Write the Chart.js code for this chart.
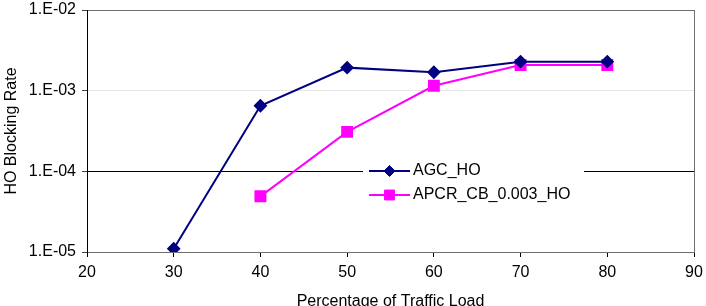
<!DOCTYPE html>
<html>
<head>
<meta charset="utf-8">
<script src="https://cdn.jsdelivr.net/npm/chart.js@4/dist/chart.umd.min.js"></script>
<style>
  html, body { margin: 0; padding: 0; overflow: hidden; background: #fff; }
  #wrap { width: 706px; height: 316px; position: relative; }
</style>
</head>
<body>
<div id="wrap"><canvas id="c"></canvas></div>
<script>
// ---- data ----
const trafficLoad = [30, 40, 50, 60, 70, 80];
const agcHO = [1.1e-5, 6.5e-4, 1.93e-3, 1.69e-3, 2.29e-3, 2.29e-3];
const apcrLoad = [40, 50, 60, 70, 80];
const apcrHO = [4.9e-5, 3.08e-4, 1.15e-3, 2.08e-3, 2.08e-3];
const yTickValues = [1e-5, 1e-4, 1e-3, 1e-2];
const yTickLabels = ['1.E-05', '1.E-04', '1.E-03', '1.E-02'];
const seriesNames = ['AGC_HO', 'APCR_CB_0.003_HO'];

const FONT = "'Liberation Sans', Arial, sans-serif";
Chart.defaults.font.family = FONT;
Chart.defaults.font.size = 16;
Chart.defaults.color = '#000';

const yGridColor = v => {
  if (Math.abs(v - 1e-2) < 1e-9) return '#6e6e6e';
  if (Math.abs(v - 1e-3) < 1e-9) return '#e6e6e6';
  if (Math.abs(v - 1e-4) < 1e-9) return '#000000';
  return '#6e6e6e';
};

const zeroPad = s => { s.paddingTop = 0; s.paddingBottom = 0; s.paddingLeft = 0; s.paddingRight = 0; };

const insideLegend = {
  id: 'insideLegend',
  afterDatasetsDraw(chart, args, opts) {
    const ctx = chart.ctx;
    const ds = chart.data.datasets;
    ctx.save();
    ctx.fillStyle = '#fff';
    ctx.fillRect(opts.boxLeft, opts.boxTop, opts.boxWidth, opts.boxHeight);
    ds.forEach((d, i) => {
      const y = opts.rowTop + i * opts.rowGap;
      ctx.strokeStyle = d.borderColor;
      ctx.lineWidth = d.borderWidth;
      ctx.beginPath();
      ctx.moveTo(opts.lineStart, y);
      ctx.lineTo(opts.lineEnd, y);
      ctx.stroke();
      ctx.fillStyle = d.pointBackgroundColor;
      ctx.strokeStyle = d.pointBorderColor;
      ctx.lineWidth = 1;
      Chart.helpers.drawPoint(ctx, {pointStyle: d.pointStyle, radius: d.pointRadius, borderWidth: 1, rotation: 0}, (opts.lineStart + opts.lineEnd) / 2, y);
      ctx.fillStyle = '#000';
      ctx.font = '16px ' + FONT;
      ctx.textBaseline = 'middle';
      ctx.textAlign = 'left';
      ctx.fillText(d.label, opts.textX, y);
    });
    ctx.restore();
  }
};

new Chart(document.getElementById('c'), {
  type: 'line',
  data: {
    datasets: [
      {
        label: seriesNames[0],
        data: trafficLoad.map((x, i) => ({x, y: agcHO[i]})),
        borderColor: '#000080',
        backgroundColor: '#000080',
        pointBackgroundColor: '#000080',
        pointBorderColor: '#000080',
        borderWidth: 2,
        pointStyle: 'rectRot',
        pointRadius: 5.5,
        pointHoverRadius: 5.5,
        tension: 0
      },
      {
        label: seriesNames[1],
        data: apcrLoad.map((x, i) => ({x, y: apcrHO[i]})),
        borderColor: '#ff00ff',
        backgroundColor: '#ff00ff',
        pointBackgroundColor: '#ff00ff',
        pointBorderColor: '#ff00ff',
        borderWidth: 2,
        pointStyle: 'rect',
        pointRadius: 7,
        pointHoverRadius: 7,
        tension: 0
      }
    ]
  },
  options: {
    responsive: true,
    maintainAspectRatio: false,
    animation: false,
    events: [],
    layout: { padding: { top: 10, right: 12, left: 0, bottom: 0 } },
    plugins: {
      legend: { display: false },
      tooltip: { enabled: false },
      insideLegend: {
        boxLeft: 363, boxTop: 152, boxWidth: 221, boxHeight: 60,
        rowTop: 171, rowGap: 24,
        lineStart: 369, lineEnd: 410, textX: 413
      }
    },
    scales: {
      x: {
        type: 'linear',
        min: 20, max: 90,
        afterFit: s => { s.height = 64; zeroPad(s); },
        ticks: { stepSize: 10, padding: 6, maxRotation: 0, font: { size: 16 } },
        grid: {
          drawOnChartArea: true,
          color: c => (c.tick && c.tick.value === 90) ? '#6e6e6e' : 'rgba(0,0,0,0)',
          tickColor: '#000',
          tickLength: 5,
          lineWidth: 1
        },
        border: { display: true, color: '#6e6e6e', width: 1 },
        title: { display: true, text: 'Percentage of Traffic Load', font: { size: 16 }, padding: { top: 0, bottom: 5 } }
      },
      y: {
        type: 'logarithmic',
        min: 1e-5, max: 1e-2,
        afterFit: s => { s.width = 87; zeroPad(s); },
        afterBuildTicks: s => { s.ticks = yTickValues.map(v => ({value: v})); },
        ticks: {
          padding: 6,
          font: { size: 16 },
          callback: (v) => {
            const i = yTickValues.findIndex(t => Math.abs(t - v) / t < 1e-6);
            return i >= 0 ? yTickLabels[i] : '';
          }
        },
        grid: {
          color: c => yGridColor(c.tick ? c.tick.value : 0),
          tickColor: '#444',
          tickLength: 5,
          lineWidth: 1
        },
        border: { display: true, color: '#000', width: 1 },
        title: { display: true, text: 'HO Blocking Rate', font: { size: 16 }, padding: { top: 2, bottom: 0 } }
      }
    }
  },
  plugins: [insideLegend]
});
</script>
</body>
</html>
